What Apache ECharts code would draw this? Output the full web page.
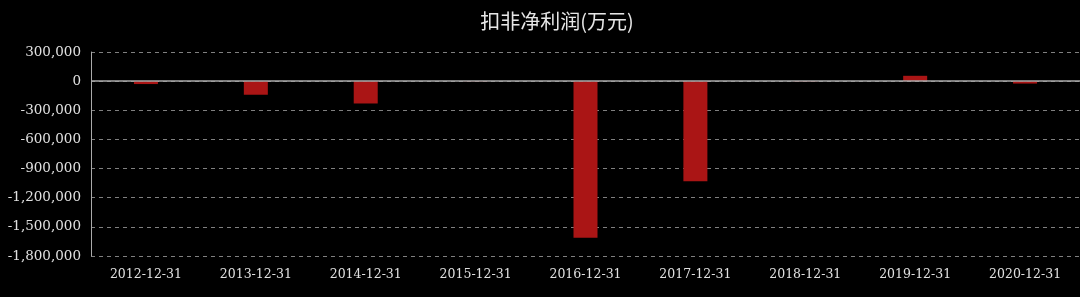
<!DOCTYPE html>
<html>
<head>
<meta charset="utf-8">
<script src="https://cdn.jsdelivr.net/npm/echarts@6/dist/echarts.min.js"></script>
<style>
html,body{margin:0;padding:0;background:#000;}
#c{width:1080px;height:297px;}
</style>
</head>
<body>
<div id="c"></div>
<script>
const title = '扣非净利润(万元)';
const categories = ['2012-12-31','2013-12-31','2014-12-31','2015-12-31','2016-12-31','2017-12-31','2018-12-31','2019-12-31','2020-12-31'];
const values = [-30000, -140000, -230000, -3000, -1613000, -1030000, -4000, 55000, -25000];
const yMin = -1800000, yMax = 300000, yStep = 300000;

const chart = echarts.init(document.getElementById('c'));
chart.setOption({
  backgroundColor: '#000',
  animation: false,
  title: {
    text: title,
    left: 552, top: 6,
    textAlign: 'center',
    textStyle: {color: '#e6e6e6', fontSize: 20, fontWeight: 'normal', fontFamily: 'Noto Sans CJK SC'}
  },
  grid: {left: 91, width: 997, top: 52, bottom: 41},
  xAxis: {
    type: 'category',
    data: categories,
    axisLine: {show: false, onZero: false},
    axisTick: {show: false},
    axisLabel: {color: '#e0e0e0', fontSize: 12.5, fontFamily: 'DejaVu Serif', margin: 12}
  },
  yAxis: {
    type: 'value',
    min: yMin, max: yMax, interval: yStep,
    axisLine: {show: true, lineStyle: {color: '#aaaaaa', width: 1}},
    axisTick: {show: false},
    splitLine: {show: true, lineStyle: {color: '#808080', type: [4, 4], width: 1}},
    axisLabel: {
      color: '#e0e0e0', fontSize: 13.5, fontFamily: 'DejaVu Serif', margin: 10,
      formatter: v => v.toLocaleString('en-US')
    }
  },
  series: [{
    type: 'bar',
    data: values,
    barWidth: 24,
    itemStyle: {color: '#aa1515'},
    markLine: {
      silent: true,
      symbol: 'none',
      label: {show: false},
      lineStyle: {color: '#aaaaaa', type: 'solid', width: 1.5},
      data: [{yAxis: 0}]
    }
  }]
});
</script>
</body>
</html>
